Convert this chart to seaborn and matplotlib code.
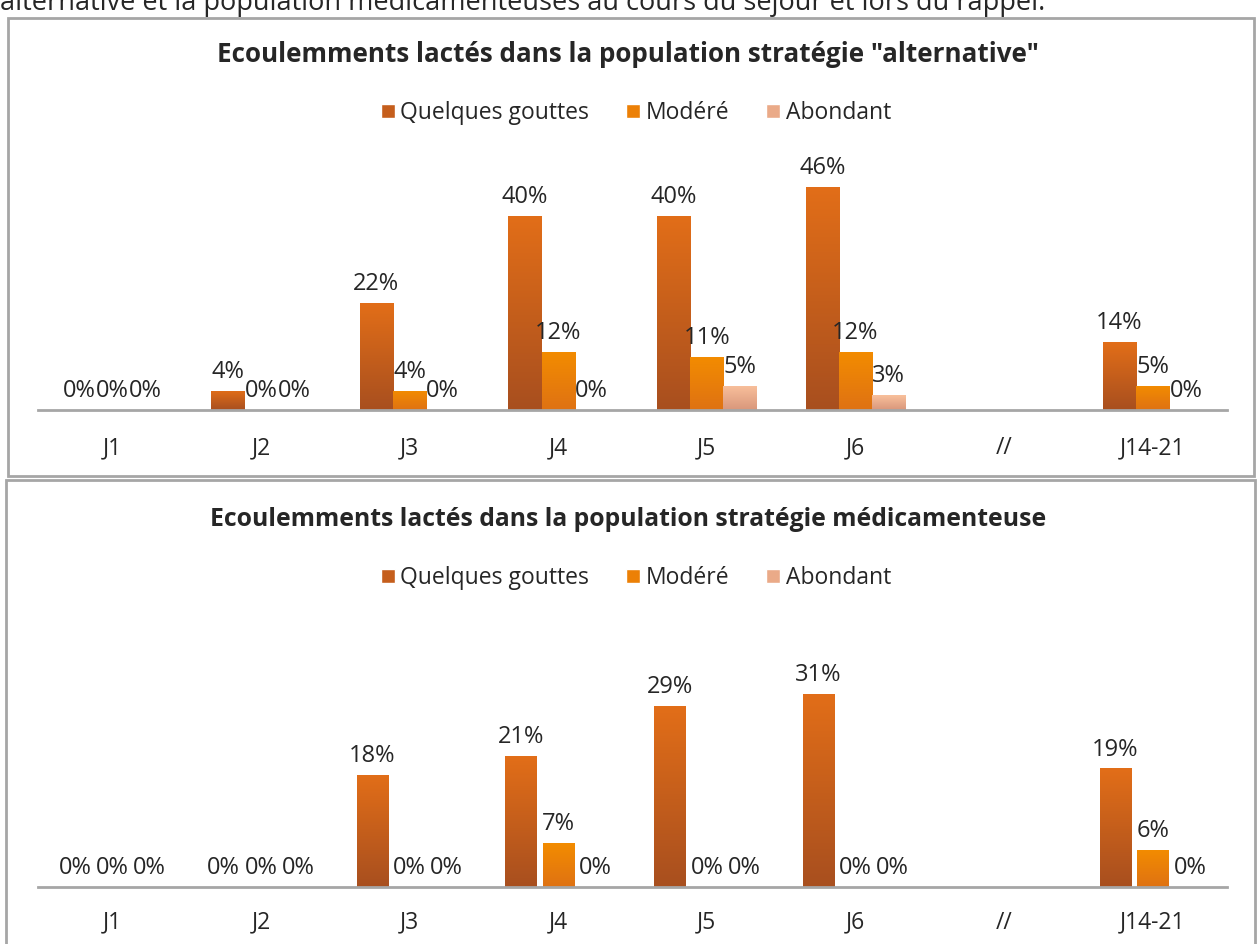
import numpy as np
import pandas as pd
import matplotlib
matplotlib.use("Agg")
import matplotlib.pyplot as plt
from matplotlib.colors import LinearSegmentedColormap
from matplotlib.patches import Rectangle
import seaborn as sns

# --- data ---
days = ["J1", "J2", "J3", "J4", "J5", "J6", "//", "J14-21"]
levels = ["Quelques gouttes", "Modéré", "Abondant"]

alt_gouttes = [0, 4, 22, 40, 40, 46, None, 14]
alt_modere = [0, 0, 4, 12, 11, 12, None, 5]
alt_abondant = [0, 0, 0, 0, 5, 3, None, 0]

med_gouttes = [0, 0, 18, 21, 29, 31, None, 19]
med_modere = [0, 0, 0, 7, 0, 0, None, 6]
med_abondant = [0, 0, 0, 0, 0, 0, None, 0]

title_alt = 'Ecoulemments lactés dans la population stratégie "alternative"'
title_med = "Ecoulemments lactés dans la population stratégie médicamenteuse"
top_line = "alternative et la population médicamenteuses au cours du séjour et lors du rappel."

mid_colors = ["#C55E1C", "#EC8006", "#EAAA88"]
grads = [("#E26E18", "#A84F1F"), ("#F38C00", "#DF7213"), ("#F9C09C", "#D9977B")]

W, H = 1257, 944

sns.set_style("white")
plt.rcParams["font.family"] = ["Open Sans", "DejaVu Sans"]


def long_df(series):
    rows = []
    for lvl, vals in zip(levels, series):
        for d, v in zip(days, vals):
            if v is not None:
                rows.append({"jour": d, "type": lvl, "val": v})
    return pd.DataFrame(rows)


def fx(px):
    return px / W


def fy(py):
    return 1 - py / H


def draw_chart(fig, series, title, title_size, box, base_y, top_y, ymax, width, gap,
               title_y, leg_y, lab_y):
    # frame
    x0, y0, x1, y1 = box
    fig.add_artist(Rectangle((fx(x0), fy(y1)), fx(x1 - x0), (y1 - y0) / H,
                             transform=fig.transFigure, fill=False,
                             edgecolor="#A6A6A6", lw=2))
    ax = fig.add_axes([fx(38), fy(base_y), fx(1227 - 38), (base_y - top_y) / H])
    df = long_df(series)
    sns.barplot(data=df, x="jour", y="val", hue="type", order=days, hue_order=levels,
                palette=mid_colors, errorbar=None, width=width, gap=gap,
                saturation=1, ax=ax, legend=True)
    ax.set_xlim(-0.5, len(days) - 0.5)
    ax.set_ylim(0, ymax)

    # gradient fill on each bar
    for cont, (c_top, c_bot) in zip(ax.containers, grads):
        cmap = LinearSegmentedColormap.from_list("g", [c_top, c_bot])
        for p in cont.patches:
            h = p.get_height()
            if h <= 0:
                continue
            x = p.get_x()
            im = ax.imshow(np.linspace(0, 1, 128).reshape(-1, 1), cmap=cmap,
                           extent=[x, x + p.get_width(), 0, h], aspect="auto",
                           zorder=p.get_zorder() + 0.1)
            im.set_clip_path(p)
        ax.bar_label(cont, labels=[f"{v:.0f}%" for v in cont.datavalues],
                     padding=5, fontsize=17, color="#262626")
    ax.set_xlim(-0.5, len(days) - 0.5)
    ax.set_ylim(0, ymax)

    for s in ["top", "left", "right"]:
        ax.spines[s].set_visible(False)
    ax.spines["bottom"].set_color("#A6A6A6")
    ax.spines["bottom"].set_linewidth(2)
    ax.set_yticks([])
    ax.set_xlabel("")
    ax.set_ylabel("")
    ax.tick_params(axis="x", length=0, pad=lab_y - base_y - 17, labelsize=16.5,
                   labelcolor="#262626")
    ax.patch.set_alpha(0)

    ax.legend(loc="center", bbox_to_anchor=(fx(636), fy(leg_y)),
              bbox_transform=fig.transFigure, ncol=3, frameon=False,
              fontsize=16.5, handlelength=0.62, handleheight=0.62,
              handletextpad=0.25, columnspacing=1.6, labelcolor="#262626")
    fig.text(fx(628), fy(title_y), title, ha="center", va="center",
             fontsize=title_size, fontweight="bold", color="#262626")
    return ax


fig = plt.figure(figsize=(W / 100, H / 100), dpi=100)
fig.patch.set_facecolor("white")

fig.text(fx(0), fy(10), top_line, ha="left", va="baseline", fontsize=19.5, color="#262626")

draw_chart(fig, [alt_gouttes, alt_modere, alt_abondant], title_alt, 18.7,
           (8, 18, 1254, 476), 410, 160, 51.5, 0.67, 0, 55, 113, 446)
draw_chart(fig, [med_gouttes, med_modere, med_abondant], title_med, 17.8,
           (6, 480, 1255, 960), 887, 640, 39.6, 0.75, 0.16, 520, 578, 921)

fig.savefig("out.png", dpi=100)
